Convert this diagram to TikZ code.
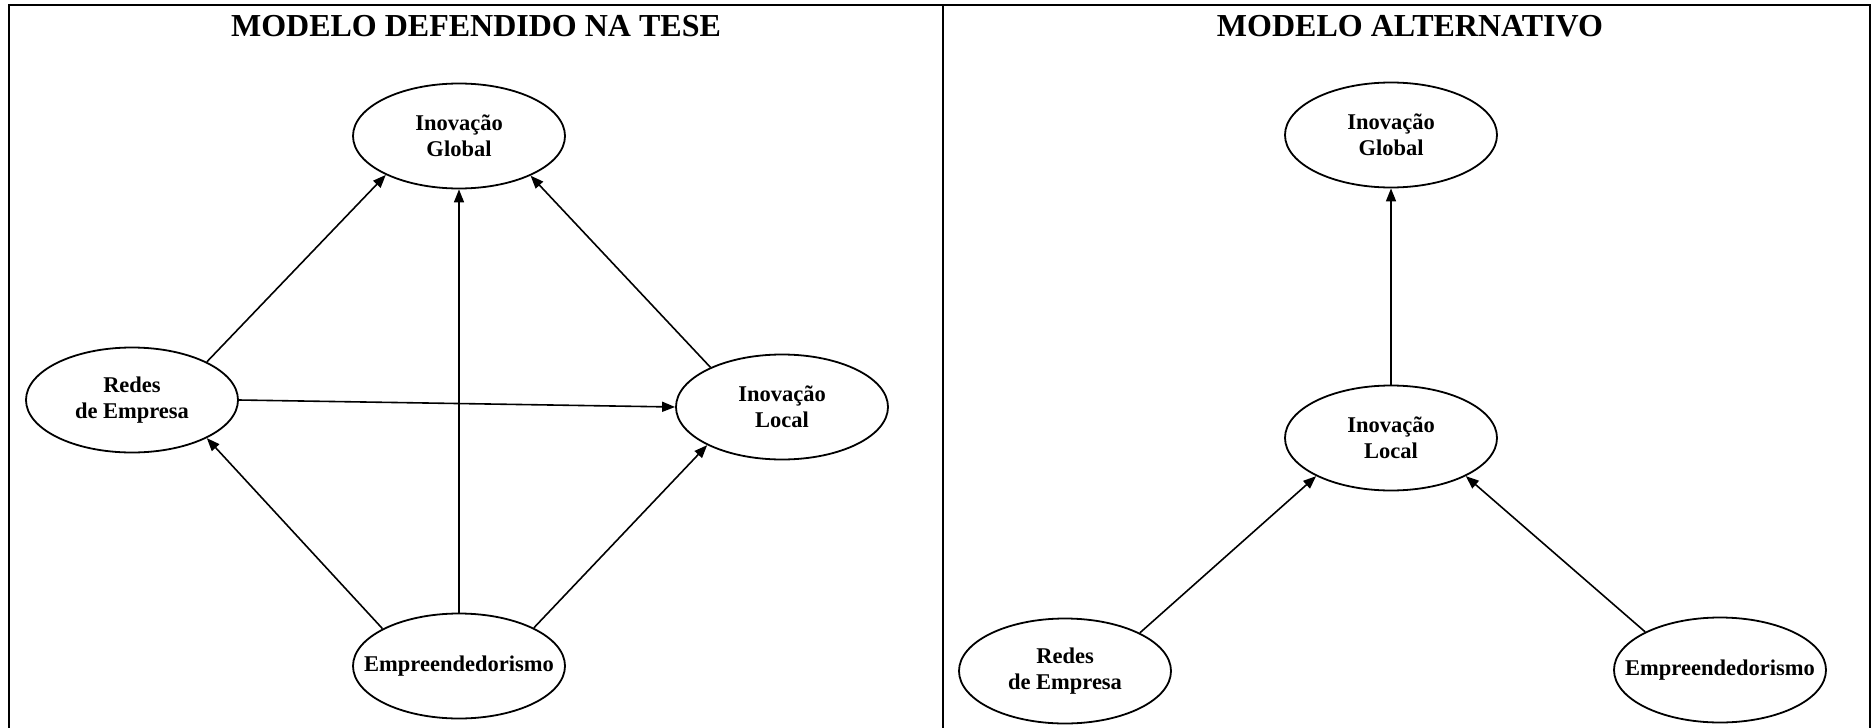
\documentclass[tikz,border=0pt]{standalone}
\usepackage{fontspec}
\setmainfont{Liberation Serif}
\usetikzlibrary{arrows.meta,shapes.geometric}
\begin{document}
\begin{tikzpicture}[x=1pt,y=-1pt,
  var/.style={ellipse,draw,line width=1.8pt,minimum width=212pt,minimum height=105pt,inner sep=0pt,align=center,font=\fontsize{22.5}{26}\selectfont\bfseries},
  arr/.style={line width=1.6pt,-{Triangle[length=13pt,width=10pt]}},
  ttl/.style={font=\fontsize{32}{38}\selectfont\bfseries,anchor=base},
  frame/.style={line width=2pt}]
\useasboundingbox (0,0) rectangle (1874,728);
\draw[frame] (9,740) -- (9,5) -- (1870,5) -- (1870,740);
\draw[frame] (943,5) -- (943,740);
\node[ttl] (t1) at (476,36) {MODELO DEFENDIDO NA TESE};
\node[ttl] (t2) at (1410,36) {MODELO ALTERNATIVO};
% left model
\node[var] (globL) at (459,136) {Inovação\\Global};
\node[var] (redesL) at (132,400) {Redes\\de Empresa};
\node[var] (localL) at (782,407) {Inovação\\Local};
\node[var] (empL) at (459,666) {\makebox[140pt]{Empreendedorismo}};
\draw[arr] (redesL.27) -- (globL.208);
\draw[arr] (empL.north) -- (globL.south);
\draw[arr] (localL.151) -- (globL.331);
\draw[arr] (redesL.east) -- (localL.west);
\draw[arr] (empL.154) -- (redesL.333);
\draw[arr] (empL.27) -- (localL.207);
% right model
\node[var] (globR) at (1391,135) {Inovação\\Global};
\node[var] (localR) at (1391,438) {Inovação\\Local};
\node[var] (redesR) at (1065,671) {Redes\\de Empresa};
\node[var] (empR) at (1720,670) {\makebox[140pt]{Empreendedorismo}};
\draw[arr] (localR.north) -- (globR.south);
\draw[arr] (redesR.27) -- (localR.207);
\draw[arr] (empR.153) -- (localR.333);
\end{tikzpicture}
\end{document}
